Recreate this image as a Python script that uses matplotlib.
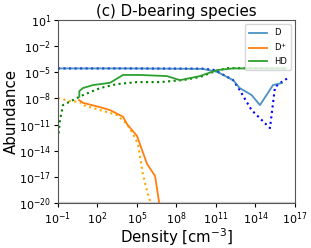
import matplotlib
matplotlib.use('Agg')
import matplotlib.pyplot as plt
import numpy as np

# log10 values
D_SOLID_X = [-1.0, 4.0, 10.0, 11.1, 12.3, 12.8, 13.7, 14.34, 15.33, 16.0]
D_SOLID_Y = [-4.55, -4.55, -4.6, -4.95, -5.9, -6.8, -7.6, -8.76, -6.46, -6.23]
D_DOT_X = [-1.0, 4.0, 10.0, 10.9, 12.3, 12.8, 13.7, 15.1, 15.48, 15.86, 16.46]
D_DOT_Y = [-4.55, -4.55, -4.58, -4.74, -5.89, -7.04, -9.33, -11.4, -6.7, -6.23, -5.66]

DP_SOLID_X = [0.6, 0.9, 2.19, 2.95, 3.94, 4.24, 5.0, 5.45, 5.76, 6.37, 6.74]
DP_SOLID_Y = [-8.18, -8.5, -9.0, -9.33, -10.1, -10.94, -12.3, -14.2, -15.5, -16.9, -20.5]
DP_DOT_X = [-1.0, -0.1, 0.67, 0.9, 2.19, 3.48, 4.24, 4.7, 5.07, 5.23, 5.45, 5.76, 6.14]
DP_DOT_Y = [-7.95, -8.3, -8.4, -8.76, -9.33, -9.9, -10.94, -12.1, -13.2, -14.7, -16.7, -18.6, -20.5]

HD_SOLID_X = [0.62, 0.62, 0.9, 1.66, 2.95, 3.94, 5.23, 7.28, 8.26, 9.78, 11.07, 12.29, 16.3]
HD_SOLID_Y = [-7.8, -7.15, -6.8, -6.46, -6.2, -5.3, -5.3, -5.43, -5.9, -5.43, -4.74, -4.55, -4.55]
HD_DOT_X = [-0.95, -0.85, -0.62, 0.14, 0.9, 2.19, 3.48, 5.0, 6.74, 8.49, 9.78, 10.77, 11.83, 16.3]
HD_DOT_Y = [-12.0, -10.48, -8.76, -8.18, -7.61, -6.81, -6.35, -6.12, -6.12, -5.89, -5.54, -4.97, -4.51, -4.55]

LABELS = ['D', 'D$^{+}$', 'HD']


def p(v):
    return 10.0 ** np.array(v)


fig = plt.figure(figsize=(3.11, 2.48), dpi=100)
ax = fig.add_axes([0.1865, 0.1815, 0.762, 0.7375])

ax.plot(p(D_DOT_X), p(D_DOT_Y), ':', color='blue', lw=1.5)
ax.plot(p(DP_DOT_X), p(DP_DOT_Y), ':', color='orange', lw=1.5)
ax.plot(p(HD_DOT_X), p(HD_DOT_Y), ':', color='green', lw=1.5)
ax.plot(p(D_SOLID_X), p(D_SOLID_Y), '-', color='tab:blue', lw=1.3, alpha=0.8, label=LABELS[0])
ax.plot(p(DP_SOLID_X), p(DP_SOLID_Y), '-', color='tab:orange', lw=1.3, label=LABELS[1])
ax.plot(p(HD_SOLID_X), p(HD_SOLID_Y), '-', color='tab:green', lw=1.3, label=LABELS[2])

ax.axhline(1e-20, color='lightgray', lw=2.5, zorder=0)

ax.set_xscale('log')
ax.set_yscale('log')
ax.set_xlim(1e-1, 1e17)
ax.set_ylim(1e-20, 1e1)
ax.set_xticks([10.0 ** k for k in range(-1, 18, 3)])
ax.set_yticks([10.0 ** k for k in range(-20, 2, 3)])
ax.minorticks_off()
ax.tick_params(labelsize=8, length=3, pad=2)
for spine in ax.spines.values():
    spine.set_color('#555555')

ax.set_title('(c) D-bearing species', fontsize=10.8, pad=3)
ax.set_xlabel('Density [cm$^{-3}$]', fontsize=10.8, labelpad=0)
ax.set_ylabel('Abundance', fontsize=10.8, labelpad=0)
ax.legend(loc='upper right', fontsize=6, handlelength=2.2, borderpad=0.5,
          labelspacing=0.45)

fig.savefig('out.png', dpi=100)
